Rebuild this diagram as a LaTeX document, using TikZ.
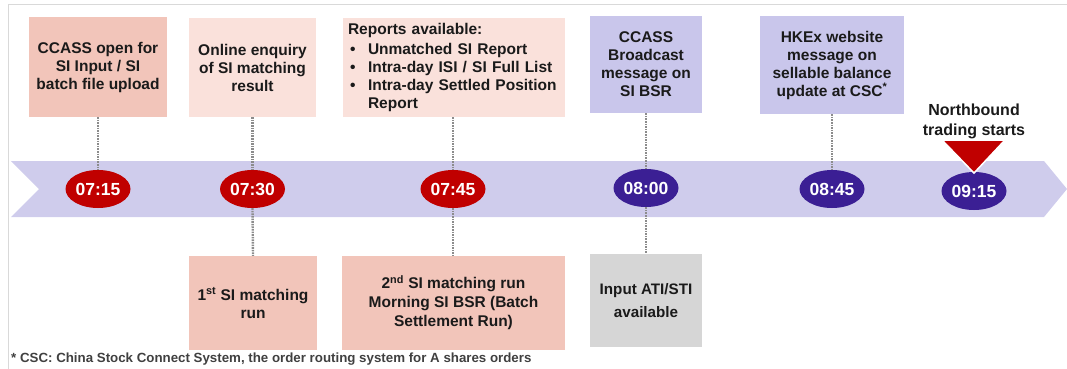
\documentclass[tikz,border=0pt]{standalone}
\usepackage{fontspec}
\setmainfont{Liberation Sans}
\usetikzlibrary{shapes.geometric}
\definecolor{salmon}{HTML}{F2C5BA}
\definecolor{pinklt}{HTML}{FAE1DB}
\definecolor{lav}{HTML}{C9C6EB}
\definecolor{bandc}{HTML}{CFCCEC}
\definecolor{tred}{HTML}{C00000}
\definecolor{tpurple}{HTML}{3B1F94}
\definecolor{grbox}{HTML}{D6D6D6}
\definecolor{conn}{HTML}{8C8C8C}
\definecolor{framec}{HTML}{D9D9D9}
\definecolor{txt}{HTML}{1A1A1A}
\definecolor{foot}{HTML}{404040}
\tikzset{
  boxtxt/.style={font=\bfseries\fontsize{15.5}{18}\selectfont, text=txt},
  infobox/.style={boxtxt, rectangle, inner sep=0pt, align=center},
  timeov/.style={ellipse, minimum width=65pt, minimum height=38pt, inner sep=0pt,
     text=white, font=\bfseries\fontsize{17.5}{20}\selectfont},
  redtime/.style={timeov, fill=tred},
  purtime/.style={timeov, fill=tpurple},
  thinlink/.style={conn, line width=1.6pt, dash pattern=on 1.6pt off 1pt},
  thicklink/.style={conn, line width=2.4pt, dash pattern=on 1.6pt off 1pt},
}
\begin{document}
\begin{tikzpicture}[x=1pt,y=-1pt]
\useasboundingbox (0,0) rectangle (1067,369);
% frame lines
\draw[framec, line width=1pt] (8,369) -- (8,5) -- (1067,5);
% band
\fill[bandc] (11,161) -- (1044,161) -- (1067,189) -- (1044,217) -- (11,217) -- (39,189) -- cycle;

% top boxes
\node[infobox, fill=salmon, minimum width=138pt, minimum height=100pt] (b1) at (98,67)
  {CCASS open for\\SI Input / SI\\batch file upload};
\node[infobox, fill=pinklt, minimum width=127pt, minimum height=99pt] (b2) at (252.5,67.5)
  {Online enquiry\\of SI matching\\result};
\node[boxtxt, rectangle, fill=pinklt, minimum width=222pt, minimum height=99pt, inner sep=5pt,
  text width=212pt, align=left] (b3) at (454,67.5)
  {\vspace*{2pt}Reports available:\\
   \makebox[20pt][l]{\hspace{2pt}\textbullet}Unmatched SI Report\\
   \makebox[20pt][l]{\hspace{2pt}\textbullet}Intra-day ISI / SI Full List\\
   \makebox[20pt][l]{\hspace{2pt}\textbullet}Intra-day Settled Position\\
   \hspace*{20pt}Report};
\node[infobox, fill=lav, minimum width=112pt, minimum height=97pt] (b4) at (646,64.5)
  {CCASS\\Broadcast\\message on\\SI BSR};
\node[infobox, fill=lav, minimum width=144pt, minimum height=98pt] (b5) at (832,65)
  {HKEx website\\message on\\sellable balance\\update at CSC\textsuperscript{*}};
\node[infobox, font=\bfseries\fontsize{16}{20}\selectfont] (nb) at (974,121)
  {Northbound\\trading starts};

% bottom boxes
\node[infobox, fill=salmon, minimum width=128pt, minimum height=94pt] (d1) at (253,303)
  {1\textsuperscript{st} SI matching\\run};
\node[infobox, fill=salmon, minimum width=223pt, minimum height=94pt,
  font=\bfseries\fontsize{15.5}{19}\selectfont] (d2) at (453.5,303)
  {2\textsuperscript{nd} SI matching run\\Morning SI BSR (Batch\\Settlement Run)};
\node[infobox, fill=grbox, minimum width=112pt, minimum height=93pt,
  font=\bfseries\fontsize{15.2}{23.5}\selectfont] (d3) at (646,300.5)
  {Input ATI/STI\\available};

% time ovals
\node[redtime] (t1) at (98,189) {07:15};
\node[redtime] (t2) at (252.5,189) {07:30};
\node[redtime] (t3) at (453,189) {07:45};
\node[purtime] (t4) at (646,188) {08:00};
\node[purtime] (t5) at (832,189) {08:45};
\node[purtime] (t6) at (974,191) {09:15};

% links
\draw[thinlink] (b1.south) -- (t1.north);
\draw[thicklink] (b2.south) -- (t2.north);
\draw[thicklink] (b3.south -| t3.north) -- (t3.north);
\draw[thinlink] (b4.south) -- (t4.north);
\draw[thinlink] (b5.south) -- (t5.north);
\draw[thicklink] (t2.south) -- (d1.north);
\draw[thicklink] (t3.south) -- (d2.north -| t3.south);
\draw[thinlink] (t4.south) -- (d3.north);

% marker triangle
\coordinate (tip) at (974,173);
\filldraw[fill=tred, draw=white, line width=1.5pt, line join=miter] (942,140) -- (1005,140) -- (tip) -- cycle;

% footnote
\node[anchor=west, inner sep=0pt, text=foot, font=\bfseries\fontsize{13.3}{15}\selectfont] (fn) at (11,359)
  {* CSC: China Stock Connect System, the order routing system for A shares orders};
\end{tikzpicture}
\end{document}
